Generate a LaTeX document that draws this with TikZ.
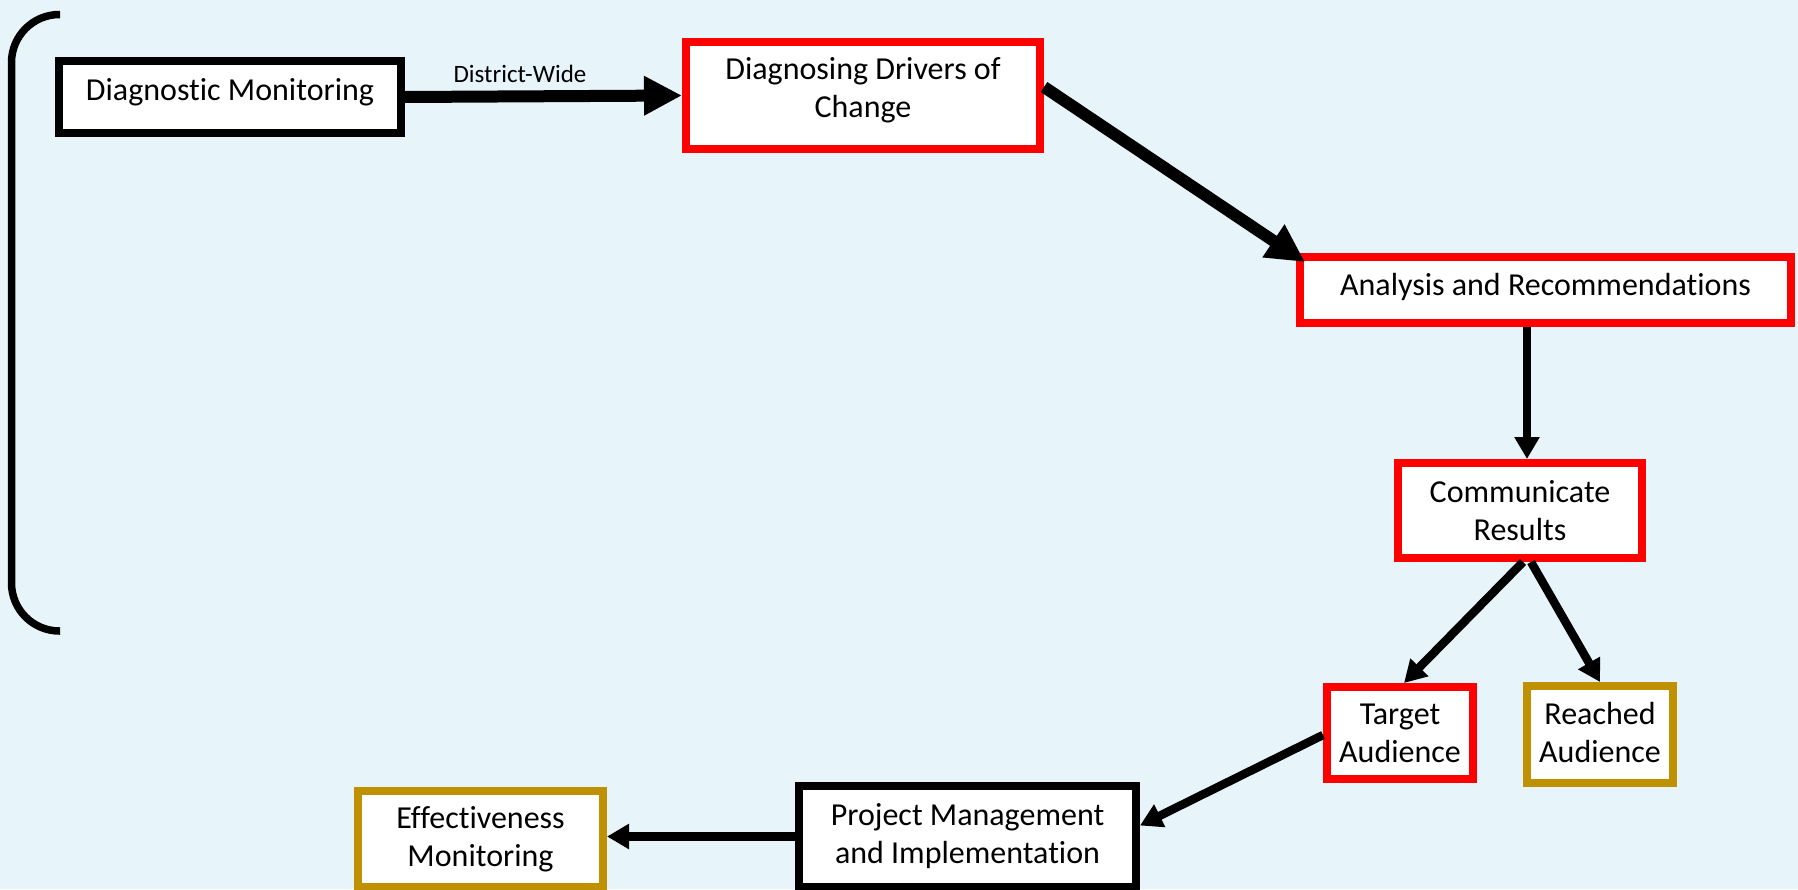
\documentclass[tikz,border=0pt]{standalone}
\usepackage{fontspec}
\setmainfont{Carlito}[Ligatures=NoCommon]
\usetikzlibrary{arrows.meta}
\definecolor{bgblue}{RGB}{231,245,250}
\definecolor{boxred}{RGB}{255,0,0}
\definecolor{boxgold}{RGB}{191,144,0}
\begin{document}
\begin{tikzpicture}[x=1pt,y=-1pt,
  stagebox/.style={draw=#1, line width=8pt, fill=white, rectangle, align=center,
    inner sep=0pt, text=black, font=\fontsize{32}{38}\selectfont},
  stagebox/.default=black,
  link/.style={line width=8.5pt, -{Triangle[length=22pt,width=24pt]}},
  biglink/.style={line width=12pt, -{Triangle[length=38pt,width=37pt]}},
]
% canvas
\fill[bgblue] (0,0) rectangle (1798,889);
\useasboundingbox (0,0) rectangle (1798,889);

% left bracket
\draw[line width=7.5pt, rounded corners=48pt] (60,14.5) -- (11.5,14.5) -- (11.5,631) -- (60,631);

% stages
\node[stagebox, minimum width=342pt, minimum height=72pt, text depth=16pt] (dm) at (230,97) {Diagnostic Monitoring};
\node[stagebox=boxred, minimum width=354pt, minimum height=107pt, text depth=16pt] (ddc) at (863,95.5) {Diagnosing Drivers of\\Change};
\node[stagebox=boxred, minimum width=491pt, minimum height=66pt, text depth=11pt] (ar) at (1545.5,290) {Analysis and Recommendations};
\node[stagebox=boxred, minimum width=244pt, minimum height=95pt] (cr) at (1520,510.5) {Communicate\\Results};
\node[stagebox=boxred, minimum width=146pt, minimum height=92pt] (ta) at (1400,733) {Target\\Audience};
\node[stagebox=boxgold, minimum width=146pt, minimum height=97pt, text depth=4.5pt] (ra) at (1600,734.5) {Reached\\Audience};
\node[stagebox, minimum width=337pt, minimum height=101pt] (pm) at (967.5,836.5) {Project Management\\and Implementation};
\node[stagebox=boxgold, minimum width=245pt, minimum height=96pt] (em) at (480.5,839) {Effectiveness\\Monitoring};

% connectors
\node[anchor=base, font=\fontsize{25}{30}\selectfont] (dw) at (520,82) {District-Wide};
\draw[biglink] (dm.east) -- (ddc.west);
\draw[biglink] ([yshift=8.5pt]ddc.east) -- ([xshift=9pt,yshift=-9pt]ar.north west);
\draw[link] ([xshift=7pt]cr.north |- ar.south) -- ([xshift=7pt]cr.north);
\draw[link] ([xshift=3pt]cr.south) -- ([xshift=4pt]ta.north);
\draw[link] ([xshift=11pt]cr.south) -- (ra.north);
\draw[link] ([yshift=-2pt]ta.west) -- ([yshift=11pt]pm.east);
\draw[link] (pm.west) -- (pm.west -| em.east);
\end{tikzpicture}
\end{document}
